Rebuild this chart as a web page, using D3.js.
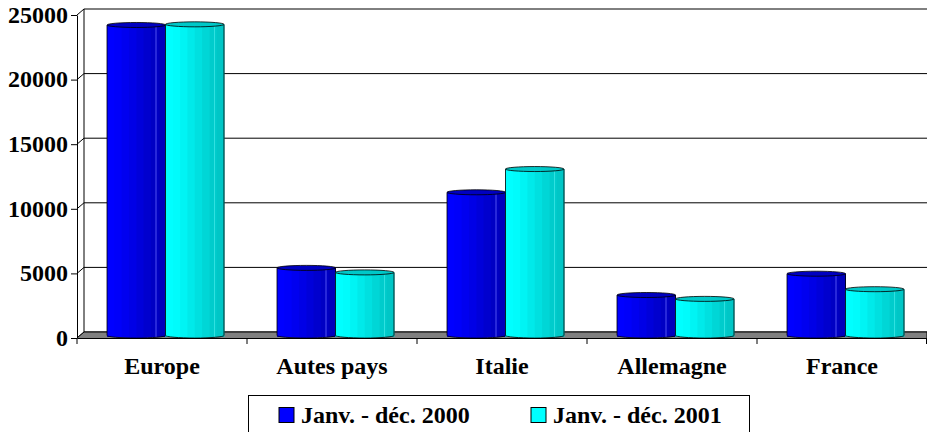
<!DOCTYPE html>
<html>
<head>
<meta charset="utf-8">
<script src="https://cdn.jsdelivr.net/npm/d3@7"></script>
<style>
  body { margin: 0; background: #fff; }
  svg { display: block; }
  text { font-family: "Liberation Serif", serif; font-weight: bold; fill: #000; }
</style>
</head>
<body>
<div id="chart"></div>
<script>
const categories = ["Europe", "Autes pays", "Italie", "Allemagne", "France"];
const seriesNames = ["Janv. - déc. 2000", "Janv. - déc. 2001"];
const values2000 = [24150, 5350, 11200, 3250, 4900];
const values2001 = [24200, 5000, 13000, 2950, 3700];
const yTicks = [0, 5000, 10000, 15000, 20000, 25000];

const shades2000 = ["#0000ff", "#0000fa", "#0000f0", "#0000e6", "#0000da", "#0000ce", "#0000c4", "#0000bc"];
const shades2001 = ["#00ffff", "#00fcfc", "#00f4f4", "#00eaea", "#00e0e0", "#00d6d6", "#00cccc", "#00c6c6"];
const tops = ["#0000c0", "#00c8c8"];
const glints = ["#5050f0", "#30e0e0"];

const W = 927, H = 432;
const margin = {left: 77, right: 0, top: 15, bottom: 94};
const depthX = 7, depthY = 6;
const labelSize = "24px";

const svg = d3.select("#chart").append("svg").attr("width", W).attr("height", H);

const x = d3.scaleBand().domain(categories).range([margin.left, W - margin.right]);
const inner = d3.scaleBand().domain(seriesNames).range([30, 147]);
const y = d3.scaleLinear().domain([0, 25000]).range([H - margin.bottom, margin.top]);

// back wall gridlines and side wall
svg.selectAll("line.grid").data(yTicks).join("line")
  .attr("class", "grid")
  .attr("x1", margin.left + depthX).attr("x2", W)
  .attr("y1", d => y(d) - depthY).attr("y2", d => y(d) - depthY)
  .attr("stroke", "#000").attr("stroke-width", 1);
svg.selectAll("line.side").data(yTicks).join("line")
  .attr("class", "side")
  .attr("x1", margin.left).attr("x2", margin.left + depthX)
  .attr("y1", d => y(d)).attr("y2", d => y(d) - depthY)
  .attr("stroke", "#000");
svg.append("line")
  .attr("x1", margin.left + depthX).attr("x2", margin.left + depthX)
  .attr("y1", y(0) - depthY).attr("y2", y(25000) - depthY)
  .attr("stroke", "#000");

// floor
svg.append("path")
  .attr("d", d3.line()([[margin.left, y(0)], [margin.left + depthX, y(0) - depthY], [W, y(0) - depthY], [W, y(0)]]))
  .attr("fill", "#808080").attr("stroke", "#000");

// y axis
const yAxis = svg.append("g").attr("transform", `translate(${margin.left},0)`)
  .call(d3.axisLeft(y).tickValues(yTicks).tickFormat(d3.format("d")).tickSize(6).tickSizeOuter(0));
yAxis.selectAll("text").style("font-size", labelSize).attr("x", -9).attr("dy", "0.3em");

// x axis, ticks sit between the categories
const xAxis = svg.append("g").attr("transform", `translate(0,${y(0)})`)
  .call(d3.axisBottom(x).tickSize(0).tickSizeOuter(0));
xAxis.selectAll("text").style("font-size", labelSize).attr("y", 19).attr("dy", "0.71em");
xAxis.selectAll("line.sep").data([...categories.map(c => x(c)), W - 0.5]).join("line")
  .attr("class", "sep").attr("x1", d => d).attr("x2", d => d)
  .attr("y1", 0).attr("y2", 6).attr("stroke", "#000");

// cylinders
function drawBars(values, shades, topColor, glint, name) {
  categories.forEach((c, i) => {
    const bx = x(c) + inner(name), bw = inner.bandwidth();
    const base = y(0) - 2.5, top = y(values[i]) - 1;
    const g = svg.append("g");
    const rx = bw / 2, ry = 2.5;
    const sw = bw / shades.length;
    g.append("path")
      .attr("d", `M${bx},${top}V${base}A${rx},${ry} 0 0 0 ${bx + bw},${base}V${top}Z`)
      .attr("fill", shades[0]);
    g.selectAll("rect").data(shades).join("rect")
      .attr("x", (d, k) => bx + k * sw).attr("y", top)
      .attr("width", sw + 0.5).attr("height", base - top + 1.5)
      .attr("fill", d => d);
    g.append("line")
      .attr("x1", bx + bw - 9.5).attr("x2", bx + bw - 9.5)
      .attr("y1", top + 2).attr("y2", base + 1.5)
      .attr("stroke", glint).attr("stroke-width", 1);
    g.append("path")
      .attr("d", `M${bx},${top}V${base}A${rx},${ry} 0 0 0 ${bx + bw},${base}V${top}`)
      .attr("fill", "none").attr("stroke", "#000").attr("stroke-width", 0.8);
    g.append("ellipse")
      .attr("cx", bx + rx).attr("cy", top).attr("rx", rx).attr("ry", ry)
      .attr("fill", topColor).attr("stroke", "#000").attr("stroke-width", 0.8);
  });
}
drawBars(values2000, shades2000, tops[0], glints[0], seriesNames[0]);
drawBars(values2001, shades2001, tops[1], glints[1], seriesNames[1]);

// legend
const legend = svg.append("g");
legend.append("rect").attr("x", 248.5).attr("y", 395.5).attr("width", 501).attr("height", 37)
  .attr("fill", "#fff").attr("stroke", "#000");
const legendX = d3.scaleOrdinal().domain(seriesNames).range([279, 531]);
const legendColors = d3.scaleOrdinal().domain(seriesNames).range([shades2000[0], shades2001[0]]);
seriesNames.forEach(s => {
  legend.append("rect").attr("x", legendX(s)).attr("y", 407.5).attr("width", 15).attr("height", 15)
    .attr("fill", legendColors(s)).attr("stroke", "#000");
  legend.append("text").attr("x", legendX(s) + 22).attr("y", 423)
    .style("font-size", labelSize).text(s);
});
</script>
</body>
</html>
